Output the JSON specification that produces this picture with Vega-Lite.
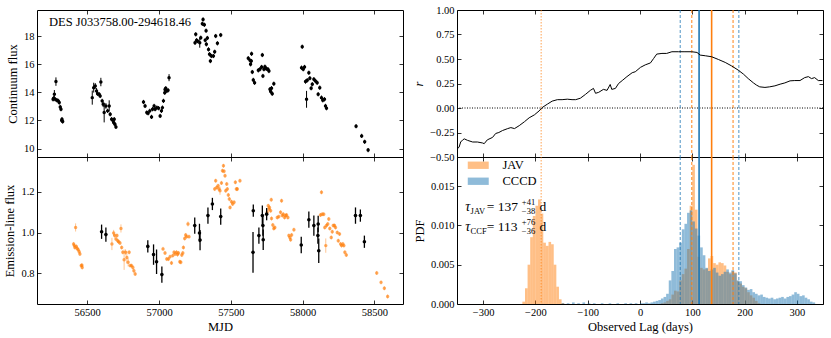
{
"$schema":"https://vega.github.io/schema/vega-lite/v6.json",
"background":"white",
"padding":{"left":3,"top":4,"right":0,"bottom":0},
"spacing":8,
"datasets":{
"cont":[
{"t":56262,"f":13.5,"e":0.15},{"t":56266,"f":13.58,"e":0.15},{"t":56271,"f":13.86,"e":0.3},{"t":56277,"f":13.5,"e":0.15},{"t":56282,"f":14.76,"e":0.3},{"t":56289,"f":13.43,"e":0.15},{"t":56298,"f":13.39,"e":0.15},{"t":56305,"f":13.27,"e":0.15},{"t":56312,"f":12.96,"e":0.15},{"t":56317,"f":12.8,"e":0.15},{"t":56322,"f":12.0,"e":0.15},{"t":56324,"f":12.09,"e":0.15},{"t":56329,"f":11.92,"e":0.15},
{"t":56535,"f":13.62,"e":0.5},{"t":56545,"f":14.33,"e":0.35},{"t":56556,"f":14.45,"e":0.2},{"t":56565,"f":14.1,"e":0.2},{"t":56572,"f":13.9,"e":0.15},{"t":56583,"f":13.86,"e":0.15},{"t":56590,"f":13.74,"e":0.15},{"t":56595,"f":14.73,"e":0.3},{"t":56604,"f":13.39,"e":0.15},{"t":56611,"f":13.15,"e":0.2},{"t":56618,"f":12.56,"e":0.7},{"t":56630,"f":13.03,"e":0.2},{"t":56642,"f":12.68,"e":0.15},{"t":56653,"f":13.03,"e":0.4},{"t":56660,"f":12.44,"e":0.15},{"t":56670,"f":12.09,"e":0.15},{"t":56679,"f":12.01,"e":0.15},{"t":56684,"f":11.85,"e":0.15},{"t":56688,"f":12.09,"e":0.15},{"t":56693,"f":11.73,"e":0.15},{"t":56700,"f":11.54,"e":0.15},
{"t":56892,"f":13.31,"e":0.15},{"t":56903,"f":13.03,"e":0.15},{"t":56915,"f":12.56,"e":0.15},{"t":56924,"f":12.51,"e":0.15},{"t":56936,"f":12.68,"e":0.15},{"t":56948,"f":12.25,"e":0.15},{"t":56955,"f":12.8,"e":0.15},{"t":56966,"f":13.03,"e":0.15},{"t":56973,"f":12.8,"e":0.15},{"t":56985,"f":12.91,"e":0.15},{"t":56997,"f":12.87,"e":0.15},{"t":57008,"f":12.32,"e":0.15},{"t":57017,"f":12.68,"e":0.15},{"t":57024,"f":12.91,"e":0.15},{"t":57031,"f":13.39,"e":0.15},{"t":57040,"f":13.97,"e":0.15},{"t":57042,"f":14.2,"e":0.15},{"t":57047,"f":14.28,"e":0.15},{"t":57054,"f":14.1,"e":0.15},{"t":57063,"f":14.14,"e":0.15},{"t":57070,"f":15.04,"e":0.25},
{"t":57251,"f":17.52,"e":0.15},{"t":57256,"f":18.12,"e":0.15},{"t":57262,"f":17.7,"e":0.15},{"t":57268,"f":17.64,"e":0.15},{"t":57284,"f":17.52,"e":0.35},{"t":57291,"f":17.88,"e":0.15},{"t":57302,"f":18.87,"e":0.15},{"t":57307,"f":19.18,"e":0.15},{"t":57316,"f":18.8,"e":0.15},{"t":57322,"f":17.7,"e":0.15},{"t":57328,"f":18.38,"e":0.15},{"t":57330,"f":17.41,"e":0.15},{"t":57337,"f":17.86,"e":0.15},{"t":57345,"f":17.05,"e":0.15},{"t":57352,"f":16.7,"e":0.15},{"t":57358,"f":16.22,"e":0.15},{"t":57365,"f":16.58,"e":0.15},{"t":57379,"f":16.58,"e":0.15},{"t":57388,"f":16.88,"e":0.15},{"t":57395,"f":18.0,"e":0.15},{"t":57407,"f":17.48,"e":0.15},{"t":57430,"f":18.07,"e":0.15},
{"t":57622,"f":16.42,"e":0.15},{"t":57634,"f":16.27,"e":0.15},{"t":57638,"f":15.99,"e":0.15},{"t":57643,"f":16.22,"e":0.15},{"t":57645,"f":16.74,"e":0.15},{"t":57650,"f":15.44,"e":0.15},{"t":57657,"f":14.88,"e":0.15},{"t":57666,"f":14.68,"e":0.15},{"t":57692,"f":15.56,"e":0.15},{"t":57703,"f":15.64,"e":0.15},{"t":57715,"f":15.8,"e":0.15},{"t":57720,"f":16.65,"e":0.15},{"t":57724,"f":15.16,"e":0.15},{"t":57731,"f":15.64,"e":0.15},{"t":57738,"f":15.82,"e":0.15},{"t":57748,"f":15.68,"e":0.15},{"t":57759,"f":15.64,"e":0.15},{"t":57766,"f":15.51,"e":0.15},{"t":57773,"f":14.22,"e":0.15},{"t":57778,"f":14.05,"e":0.15},{"t":57784,"f":14.29,"e":0.15},{"t":57789,"f":13.9,"e":0.15},{"t":57800,"f":14.61,"e":0.15},
{"t":57993,"f":15.75,"e":0.15},{"t":57998,"f":17.24,"e":0.15},{"t":58005,"f":15.64,"e":0.15},{"t":58014,"f":15.8,"e":0.15},{"t":58021,"f":14.76,"e":0.15},{"t":58028,"f":13.5,"e":0.6},{"t":58033,"f":14.85,"e":0.15},{"t":58044,"f":15.39,"e":0.15},{"t":58051,"f":15.0,"e":0.15},{"t":58060,"f":14.29,"e":0.15},{"t":58068,"f":14.57,"e":0.15},{"t":58079,"f":14.93,"e":0.15},{"t":58090,"f":14.8,"e":0.15},{"t":58102,"f":14.68,"e":0.15},{"t":58109,"f":13.86,"e":0.15},{"t":58120,"f":14.33,"e":0.15},{"t":58132,"f":13.62,"e":0.15},{"t":58141,"f":13.43,"e":0.15},{"t":58153,"f":13.5,"e":0.15},{"t":58160,"f":13.03,"e":0.15},{"t":58167,"f":12.87,"e":0.15},
{"t":58373,"f":11.59,"e":0.15},{"t":58412,"f":10.9,"e":0.15},{"t":58433,"f":10.48,"e":0.15},{"t":58457,"f":9.89,"e":0.15}
],
"line":[
{"t":56405,"f":0.944,"e":0.01,"g":"o"},{"t":56410,"f":0.936,"e":0.01,"g":"o"},{"t":56414,"f":0.927,"e":0.01,"g":"o"},{"t":56419,"f":1.025,"e":0.02,"g":"o"},{"t":56424,"f":0.932,"e":0.01,"g":"o"},{"t":56430,"f":0.922,"e":0.01,"g":"o"},{"t":56437,"f":0.916,"e":0.01,"g":"o"},{"t":56444,"f":0.906,"e":0.01,"g":"o"},{"t":56449,"f":0.895,"e":0.01,"g":"o"},{"t":56458,"f":0.838,"e":0.01,"g":"o"},{"t":56463,"f":0.84,"e":0.01,"g":"o"},{"t":56465,"f":0.829,"e":0.01,"g":"o"},
{"t":56672,"f":0.944,"e":0.03,"g":"o"},{"t":56684,"f":0.998,"e":0.015,"g":"o"},{"t":56691,"f":0.985,"e":0.01,"g":"o"},{"t":56700,"f":0.968,"e":0.01,"g":"o"},{"t":56707,"f":0.985,"e":0.01,"g":"o"},{"t":56712,"f":0.96,"e":0.01,"g":"o"},{"t":56719,"f":0.955,"e":0.01,"g":"o"},{"t":56728,"f":0.949,"e":0.01,"g":"o"},{"t":56735,"f":1.02,"e":0.02,"g":"o"},{"t":56740,"f":0.927,"e":0.01,"g":"o"},{"t":56748,"f":0.903,"e":0.01,"g":"o"},{"t":56757,"f":0.867,"e":0.05,"g":"o"},{"t":56767,"f":0.903,"e":0.015,"g":"o"},{"t":56776,"f":0.878,"e":0.03,"g":"o"},{"t":56785,"f":0.854,"e":0.02,"g":"o"},{"t":56792,"f":0.903,"e":0.01,"g":"o"},{"t":56799,"f":0.838,"e":0.01,"g":"o"},{"t":56809,"f":0.838,"e":0.01,"g":"o"},{"t":56818,"f":0.829,"e":0.01,"g":"o"},{"t":56825,"f":0.813,"e":0.01,"g":"o"},{"t":56834,"f":0.797,"e":0.01,"g":"o"},
{"t":57028,"f":0.92,"e":0.01,"g":"o"},{"t":57042,"f":0.9,"e":0.01,"g":"o"},{"t":57054,"f":0.87,"e":0.01,"g":"o"},{"t":57066,"f":0.87,"e":0.01,"g":"o"},{"t":57077,"f":0.882,"e":0.01,"g":"o"},{"t":57087,"f":0.851,"e":0.01,"g":"o"},{"t":57096,"f":0.887,"e":0.01,"g":"o"},{"t":57105,"f":0.903,"e":0.01,"g":"o"},{"t":57112,"f":0.895,"e":0.01,"g":"o"},{"t":57122,"f":0.903,"e":0.01,"g":"o"},{"t":57129,"f":0.892,"e":0.01,"g":"o"},{"t":57136,"f":0.9,"e":0.01,"g":"o"},{"t":57145,"f":0.857,"e":0.01,"g":"o"},{"t":57152,"f":0.854,"e":0.01,"g":"o"},{"t":57159,"f":0.89,"e":0.01,"g":"o"},{"t":57166,"f":0.9,"e":0.01,"g":"o"},{"t":57170,"f":0.927,"e":0.01,"g":"o"},{"t":57179,"f":0.971,"e":0.01,"g":"o"},{"t":57186,"f":0.988,"e":0.01,"g":"o"},{"t":57193,"f":0.98,"e":0.01,"g":"o"},{"t":57202,"f":1.042,"e":0.012,"g":"o"},{"t":57209,"f":0.98,"e":0.01,"g":"o"},
{"t":57388,"f":1.213,"e":0.01,"g":"o"},{"t":57395,"f":1.254,"e":0.01,"g":"o"},{"t":57402,"f":1.221,"e":0.01,"g":"o"},{"t":57412,"f":1.229,"e":0.01,"g":"o"},{"t":57418,"f":1.213,"e":0.01,"g":"o"},{"t":57425,"f":1.205,"e":0.02,"g":"o"},{"t":57435,"f":1.243,"e":0.01,"g":"o"},{"t":57442,"f":1.303,"e":0.01,"g":"o"},{"t":57449,"f":1.327,"e":0.01,"g":"o"},{"t":57453,"f":1.3,"e":0.01,"g":"o"},{"t":57460,"f":1.278,"e":0.01,"g":"o"},{"t":57465,"f":1.205,"e":0.01,"g":"o"},{"t":57472,"f":1.238,"e":0.01,"g":"o"},{"t":57476,"f":1.213,"e":0.01,"g":"o"},{"t":57483,"f":1.184,"e":0.01,"g":"o"},{"t":57490,"f":1.164,"e":0.01,"g":"o"},{"t":57495,"f":1.123,"e":0.01,"g":"o"},{"t":57505,"f":1.151,"e":0.01,"g":"o"},{"t":57513,"f":1.14,"e":0.01,"g":"o"},{"t":57523,"f":1.148,"e":0.01,"g":"o"},{"t":57532,"f":1.246,"e":0.01,"g":"o"},{"t":57539,"f":1.213,"e":0.01,"g":"o"},{"t":57546,"f":1.213,"e":0.01,"g":"o"},{"t":57564,"f":1.254,"e":0.01,"g":"o"},
{"t":57754,"f":1.099,"e":0.01,"g":"o"},{"t":57761,"f":1.131,"e":0.01,"g":"o"},{"t":57766,"f":1.115,"e":0.01,"g":"o"},{"t":57770,"f":1.123,"e":0.01,"g":"o"},{"t":57778,"f":1.107,"e":0.01,"g":"o"},{"t":57782,"f":1.161,"e":0.01,"g":"o"},{"t":57784,"f":1.069,"e":0.01,"g":"o"},{"t":57793,"f":1.037,"e":0.01,"g":"o"},{"t":57800,"f":1.02,"e":0.01,"g":"o"},{"t":57807,"f":1.025,"e":0.01,"g":"o"},{"t":57824,"f":1.074,"e":0.01,"g":"o"},{"t":57835,"f":1.078,"e":0.01,"g":"o"},{"t":57847,"f":1.099,"e":0.01,"g":"o"},{"t":57854,"f":1.156,"e":0.01,"g":"o"},{"t":57859,"f":1.083,"e":0.01,"g":"o"},{"t":57866,"f":1.09,"e":0.01,"g":"o"},{"t":57875,"f":1.074,"e":0.01,"g":"o"},{"t":57882,"f":1.083,"e":0.01,"g":"o"},{"t":57889,"f":1.086,"e":0.01,"g":"o"},{"t":57898,"f":1.074,"e":0.01,"g":"o"},{"t":57905,"f":0.985,"e":0.01,"g":"o"},{"t":57912,"f":0.976,"e":0.01,"g":"o"},{"t":57917,"f":0.965,"e":0.01,"g":"o"},{"t":57924,"f":0.988,"e":0.01,"g":"o"},{"t":57940,"f":1.014,"e":0.01,"g":"o"},
{"t":58125,"f":1.086,"e":0.01,"g":"o"},{"t":58132,"f":1.197,"e":0.01,"g":"o"},{"t":58137,"f":1.09,"e":0.01,"g":"o"},{"t":58148,"f":1.09,"e":0.01,"g":"o"},{"t":58155,"f":1.025,"e":0.01,"g":"o"},{"t":58162,"f":0.936,"e":0.035,"g":"o"},{"t":58167,"f":1.034,"e":0.01,"g":"o"},{"t":58176,"f":1.042,"e":0.01,"g":"o"},{"t":58183,"f":1.066,"e":0.01,"g":"o"},{"t":58190,"f":1.02,"e":0.01,"g":"o"},{"t":58200,"f":0.976,"e":0.01,"g":"o"},{"t":58207,"f":1.004,"e":0.01,"g":"o"},{"t":58214,"f":1.034,"e":0.01,"g":"o"},{"t":58223,"f":1.034,"e":0.01,"g":"o"},{"t":58230,"f":1.025,"e":0.01,"g":"o"},{"t":58242,"f":1.0,"e":0.01,"g":"o"},{"t":58249,"f":0.96,"e":0.01,"g":"o"},{"t":58258,"f":0.993,"e":0.01,"g":"o"},{"t":58265,"f":0.944,"e":0.01,"g":"o"},{"t":58272,"f":0.936,"e":0.01,"g":"o"},{"t":58281,"f":0.944,"e":0.01,"g":"o"},{"t":58288,"f":0.936,"e":0.01,"g":"o"},{"t":58295,"f":0.903,"e":0.01,"g":"o"},{"t":58305,"f":0.89,"e":0.01,"g":"o"},
{"t":58517,"f":0.802,"e":0.01,"g":"o"},{"t":58547,"f":0.756,"e":0.01,"g":"o"},{"t":58570,"f":0.727,"e":0.01,"g":"o"},{"t":58593,"f":0.687,"e":0.01,"g":"o"},
{"t":56600,"f":1.004,"e":0.035,"g":"k"},{"t":56630,"f":0.99,"e":0.035,"g":"k"},{"t":56922,"f":0.932,"e":0.03,"g":"k"},{"t":56962,"f":0.892,"e":0.05,"g":"k"},{"t":56983,"f":0.857,"e":0.06,"g":"k"},{"t":57020,"f":0.794,"e":0.04,"g":"k"},{"t":57249,"f":1.034,"e":0.04,"g":"k"},{"t":57282,"f":0.998,"e":0.045,"g":"k"},{"t":57286,"f":0.963,"e":0.05,"g":"k"},{"t":57341,"f":1.083,"e":0.04,"g":"k"},{"t":57372,"f":1.14,"e":0.03,"g":"k"},{"t":57430,"f":1.078,"e":0.04,"g":"k"},{"t":57657,"f":1.107,"e":0.03,"g":"k"},{"t":57655,"f":0.903,"e":0.1,"g":"k"},{"t":57696,"f":0.985,"e":0.04,"g":"k"},{"t":57720,"f":1.083,"e":0.05,"g":"k"},{"t":57724,"f":1.034,"e":0.05,"g":"k"},{"t":57726,"f":0.965,"e":0.05,"g":"k"},{"t":57750,"f":1.09,"e":0.03,"g":"k"},{"t":57991,"f":0.939,"e":0.04,"g":"k"},{"t":58044,"f":1.063,"e":0.04,"g":"k"},{"t":58079,"f":1.034,"e":0.05,"g":"k"},{"t":58109,"f":1.042,"e":0.04,"g":"k"},{"t":58107,"f":0.985,"e":0.04,"g":"k"},{"t":58113,"f":0.911,"e":0.06,"g":"k"},{"t":58369,"f":1.083,"e":0.04,"g":"k"},{"t":58403,"f":1.083,"e":0.03,"g":"k"},{"t":58431,"f":0.955,"e":0.03,"g":"k"}
],
"ccf":[
{"x":-349,"r":-0.414},{"x":-346,"r":-0.4},{"x":-343,"r":-0.347},{"x":-339,"r":-0.325},{"x":-336,"r":-0.315},{"x":-330,"r":-0.33},{"x":-320,"r":-0.347},{"x":-311,"r":-0.347},{"x":-301,"r":-0.357},{"x":-298,"r":-0.364},{"x":-292,"r":-0.325},{"x":-282,"r":-0.3},{"x":-276,"r":-0.26},{"x":-270,"r":-0.25},{"x":-263,"r":-0.23},{"x":-253,"r":-0.21},{"x":-247,"r":-0.2},{"x":-240,"r":-0.21},{"x":-231,"r":-0.18},{"x":-221,"r":-0.14},{"x":-212,"r":-0.1},{"x":-202,"r":-0.07},{"x":-193,"r":-0.03},{"x":-187,"r":0.005},{"x":-177,"r":0.04},{"x":-168,"r":0.07},{"x":-158,"r":0.085},{"x":-149,"r":0.085},{"x":-139,"r":0.09},{"x":-130,"r":0.085},{"x":-123,"r":0.085},{"x":-114,"r":0.1},{"x":-104,"r":0.14},{"x":-95,"r":0.18},{"x":-89,"r":0.2},{"x":-85,"r":0.15},{"x":-79,"r":0.16},{"x":-70,"r":0.19},{"x":-63,"r":0.18},{"x":-57,"r":0.24},{"x":-54,"r":0.19},{"x":-47,"r":0.2},{"x":-41,"r":0.25},{"x":-34,"r":0.28},{"x":-25,"r":0.32},{"x":-15,"r":0.36},{"x":-9,"r":0.37},{"x":1,"r":0.415},{"x":10,"r":0.44},{"x":20,"r":0.46},{"x":26,"r":0.505},{"x":32,"r":0.55},{"x":42,"r":0.557},{"x":51,"r":0.557},{"x":61,"r":0.574},{"x":74,"r":0.574},{"x":86,"r":0.574},{"x":99,"r":0.574},{"x":109,"r":0.567},{"x":115,"r":0.54},{"x":125,"r":0.533},{"x":137,"r":0.523},{"x":150,"r":0.495},{"x":163,"r":0.465},{"x":175,"r":0.43},{"x":188,"r":0.386},{"x":198,"r":0.345},{"x":207,"r":0.3},{"x":217,"r":0.256},{"x":223,"r":0.233},{"x":229,"r":0.216},{"x":239,"r":0.21},{"x":248,"r":0.216},{"x":258,"r":0.226},{"x":268,"r":0.243},{"x":277,"r":0.256},{"x":287,"r":0.277},{"x":296,"r":0.28},{"x":306,"r":0.28},{"x":315,"r":0.31},{"x":322,"r":0.32},{"x":328,"r":0.3},{"x":334,"r":0.31},{"x":341,"r":0.28},{"x":349,"r":0.28}
],
"hist":[
{"m":"JAV","a":-225,"b":-220,"p":0.0003},{"m":"JAV","a":-220,"b":-215,"p":0.002},{"m":"JAV","a":-215,"b":-210,"p":0.005},{"m":"JAV","a":-210,"b":-205,"p":0.0085},{"m":"JAV","a":-205,"b":-200,"p":0.0112},{"m":"JAV","a":-200,"b":-195,"p":0.0125},{"m":"JAV","a":-195,"b":-190,"p":0.0133},{"m":"JAV","a":-190,"b":-185,"p":0.0115},{"m":"JAV","a":-185,"b":-180,"p":0.0078},{"m":"JAV","a":-180,"b":-175,"p":0.0074},{"m":"JAV","a":-175,"b":-170,"p":0.0079},{"m":"JAV","a":-170,"b":-165,"p":0.0076},{"m":"JAV","a":-165,"b":-160,"p":0.005},{"m":"JAV","a":-160,"b":-155,"p":0.0022},{"m":"JAV","a":-155,"b":-150,"p":0.0006},{"m":"JAV","a":-150,"b":-145,"p":0.0001},
{"m":"JAV","a":40,"b":45,"p":0.0001},{"m":"JAV","a":45,"b":50,"p":0.0002},{"m":"JAV","a":50,"b":55,"p":0.0004},{"m":"JAV","a":55,"b":60,"p":0.0006},{"m":"JAV","a":60,"b":65,"p":0.0012},{"m":"JAV","a":65,"b":70,"p":0.0017},{"m":"JAV","a":70,"b":75,"p":0.0016},{"m":"JAV","a":75,"b":80,"p":0.003},{"m":"JAV","a":80,"b":85,"p":0.0038},{"m":"JAV","a":85,"b":90,"p":0.0045},{"m":"JAV","a":90,"b":95,"p":0.007},{"m":"JAV","a":95,"b":100,"p":0.0125},{"m":"JAV","a":100,"b":105,"p":0.0177},{"m":"JAV","a":105,"b":110,"p":0.012},{"m":"JAV","a":110,"b":115,"p":0.006},{"m":"JAV","a":115,"b":120,"p":0.0046},{"m":"JAV","a":120,"b":125,"p":0.0044},{"m":"JAV","a":125,"b":130,"p":0.0045},{"m":"JAV","a":130,"b":135,"p":0.0058},{"m":"JAV","a":135,"b":140,"p":0.0061},{"m":"JAV","a":140,"b":145,"p":0.0052},{"m":"JAV","a":145,"b":150,"p":0.005},{"m":"JAV","a":150,"b":155,"p":0.0053},{"m":"JAV","a":155,"b":160,"p":0.0052},{"m":"JAV","a":160,"b":165,"p":0.0049},{"m":"JAV","a":165,"b":170,"p":0.0041},{"m":"JAV","a":170,"b":175,"p":0.0038},{"m":"JAV","a":175,"b":180,"p":0.0042},{"m":"JAV","a":180,"b":185,"p":0.004},{"m":"JAV","a":185,"b":190,"p":0.0029},{"m":"JAV","a":190,"b":195,"p":0.0026},{"m":"JAV","a":195,"b":200,"p":0.0022},{"m":"JAV","a":200,"b":205,"p":0.002},{"m":"JAV","a":205,"b":210,"p":0.0015},{"m":"JAV","a":210,"b":215,"p":0.0011},{"m":"JAV","a":215,"b":220,"p":0.0008},{"m":"JAV","a":220,"b":225,"p":0.0004},{"m":"JAV","a":225,"b":230,"p":0.0001},
{"m":"CCCD","a":-150,"b":-145,"p":0.0001},{"m":"CCCD","a":-140,"b":-135,"p":0.0001},{"m":"CCCD","a":-130,"b":-125,"p":0.0002},{"m":"CCCD","a":-120,"b":-115,"p":0.0001},{"m":"CCCD","a":-110,"b":-105,"p":0.0002},{"m":"CCCD","a":-100,"b":-95,"p":0.0001},{"m":"CCCD","a":-90,"b":-85,"p":0.0001},{"m":"CCCD","a":-75,"b":-70,"p":0.0001},{"m":"CCCD","a":-60,"b":-55,"p":0.0001},{"m":"CCCD","a":-45,"b":-40,"p":0.0001},{"m":"CCCD","a":-30,"b":-25,"p":0.0001},{"m":"CCCD","a":-20,"b":-15,"p":0.0001},{"m":"CCCD","a":-10,"b":-5,"p":0.0001},{"m":"CCCD","a":0,"b":5,"p":0.0001},{"m":"CCCD","a":5,"b":10,"p":0.0001},{"m":"CCCD","a":10,"b":15,"p":0.0002},{"m":"CCCD","a":15,"b":20,"p":0.0001},{"m":"CCCD","a":20,"b":25,"p":0.0002},{"m":"CCCD","a":25,"b":30,"p":0.0003},{"m":"CCCD","a":30,"b":35,"p":0.0004},{"m":"CCCD","a":35,"b":40,"p":0.0005},{"m":"CCCD","a":40,"b":45,"p":0.0007},{"m":"CCCD","a":45,"b":50,"p":0.0009},{"m":"CCCD","a":50,"b":55,"p":0.0013},{"m":"CCCD","a":55,"b":60,"p":0.003},{"m":"CCCD","a":60,"b":65,"p":0.0042},{"m":"CCCD","a":65,"b":70,"p":0.007},{"m":"CCCD","a":70,"b":75,"p":0.0072},{"m":"CCCD","a":75,"b":80,"p":0.0078},{"m":"CCCD","a":80,"b":85,"p":0.0095},{"m":"CCCD","a":85,"b":90,"p":0.0102},{"m":"CCCD","a":90,"b":95,"p":0.0116},{"m":"CCCD","a":95,"b":100,"p":0.0119},{"m":"CCCD","a":100,"b":105,"p":0.0105},{"m":"CCCD","a":105,"b":110,"p":0.0096},{"m":"CCCD","a":110,"b":115,"p":0.0087},{"m":"CCCD","a":115,"b":120,"p":0.0072},{"m":"CCCD","a":120,"b":125,"p":0.0062},{"m":"CCCD","a":125,"b":130,"p":0.0046},{"m":"CCCD","a":130,"b":135,"p":0.0042},{"m":"CCCD","a":135,"b":140,"p":0.0044},{"m":"CCCD","a":140,"b":145,"p":0.0046},{"m":"CCCD","a":145,"b":150,"p":0.004},{"m":"CCCD","a":150,"b":155,"p":0.0036},{"m":"CCCD","a":155,"b":160,"p":0.0038},{"m":"CCCD","a":160,"b":165,"p":0.0041},{"m":"CCCD","a":165,"b":170,"p":0.0044},{"m":"CCCD","a":170,"b":175,"p":0.004},{"m":"CCCD","a":175,"b":180,"p":0.0043},{"m":"CCCD","a":180,"b":185,"p":0.0039},{"m":"CCCD","a":185,"b":190,"p":0.003},{"m":"CCCD","a":190,"b":195,"p":0.0029},{"m":"CCCD","a":195,"b":200,"p":0.0024},{"m":"CCCD","a":200,"b":205,"p":0.0021},{"m":"CCCD","a":205,"b":210,"p":0.0018},{"m":"CCCD","a":210,"b":215,"p":0.0019},{"m":"CCCD","a":215,"b":220,"p":0.0015},{"m":"CCCD","a":220,"b":225,"p":0.0013},{"m":"CCCD","a":225,"b":230,"p":0.0011},{"m":"CCCD","a":230,"b":235,"p":0.0012},{"m":"CCCD","a":235,"b":240,"p":0.0009},{"m":"CCCD","a":240,"b":245,"p":0.0008},{"m":"CCCD","a":245,"b":250,"p":0.0007},{"m":"CCCD","a":250,"b":255,"p":0.0008},{"m":"CCCD","a":255,"b":260,"p":0.0006},{"m":"CCCD","a":260,"b":265,"p":0.0007},{"m":"CCCD","a":265,"b":270,"p":0.0008},{"m":"CCCD","a":270,"b":275,"p":0.0009},{"m":"CCCD","a":275,"b":280,"p":0.0007},{"m":"CCCD","a":280,"b":285,"p":0.0009},{"m":"CCCD","a":285,"b":290,"p":0.001},{"m":"CCCD","a":290,"b":295,"p":0.0012},{"m":"CCCD","a":295,"b":300,"p":0.0015},{"m":"CCCD","a":300,"b":305,"p":0.0013},{"m":"CCCD","a":305,"b":310,"p":0.001},{"m":"CCCD","a":310,"b":315,"p":0.0011},{"m":"CCCD","a":315,"b":320,"p":0.0008},{"m":"CCCD","a":320,"b":325,"p":0.0006},{"m":"CCCD","a":325,"b":330,"p":0.0003},{"m":"CCCD","a":330,"b":335,"p":0.0002}
],
"lags":[
{"x":-189,"k":"alias"},{"x":77,"k":"cl"},{"x":189,"k":"cl"},{"x":99,"k":"jl"},{"x":178,"k":"jl"},{"x":113,"k":"cb"},{"x":137,"k":"jb"}
],
"ann":[
{"r":"tau","x":-334,"p":0.0124,"s":"τ"},{"r":"sub","x":-324,"p":0.0124,"s":"JAV"},{"r":"main","x":-293,"p":0.0124,"s":"= 137"},{"r":"sup","x":-226,"p":0.0124,"s":"+41"},{"r":"sub","x":-226,"p":0.0124,"s":"−38"},{"r":"main","x":-192,"p":0.0124,"s":"d"},
{"r":"tau","x":-334,"p":0.0098,"s":"τ"},{"r":"sub","x":-324,"p":0.0098,"s":"CCF"},{"r":"main","x":-293,"p":0.0098,"s":"= 113"},{"r":"sup","x":-226,"p":0.0098,"s":"+76"},{"r":"sub","x":-226,"p":0.0098,"s":"−36"},{"r":"main","x":-192,"p":0.0098,"s":"d"}
]
},
"hconcat":[
{"spacing":0,"bounds":"flush","vconcat":[
 {"width":366,"height":147,
  "resolve":{"axis":{"x":"independent","y":"independent"}},
  "layer":[
   {"data":{"name":"cont"},"mark":{"type":"errorbar","color":"black","thickness":1},
    "encoding":{
     "x":{"field":"t","type":"quantitative","scale":{"domain":[56150,58700],"nice":false,"zero":false},"axis":{"orient":"top","labels":false,"title":null,"minExtent":5,"values":[56500,57000,57500,58000,58500]}},
     "y":{"field":"f","type":"quantitative","scale":{"domain":[9.4,19.85],"nice":false,"zero":false},"axis":{"orient":"right","labels":false,"title":null,"values":[10,12,14,16,18]}},
     "yError":{"field":"e"}}},
   {"data":{"name":"cont"},"mark":{"type":"circle","size":12,"color":"black","opacity":1},
    "encoding":{
     "x":{"field":"t","type":"quantitative","scale":{"domain":[56150,58700],"nice":false,"zero":false},"axis":{"labels":false,"title":null,"values":[56500,57000,57500,58000,58500]}},
     "y":{"field":"f","type":"quantitative","scale":{"domain":[9.4,19.85],"nice":false,"zero":false},"axis":{"title":"Continuum flux","values":[10,12,14,16,18]}}}},
   {"data":{"values":[{"t":56234,"f":18.99,"s":"DES J033758.00-294618.46"}]},
    "mark":{"type":"text","align":"left","baseline":"middle","fontSize":12.5,"color":"black"},
    "encoding":{
     "x":{"field":"t","type":"quantitative","scale":{"domain":[56150,58700],"nice":false,"zero":false},"axis":null},
     "y":{"field":"f","type":"quantitative","scale":{"domain":[9.4,19.85],"nice":false,"zero":false},"axis":null},
     "text":{"field":"s"}}}
  ]},
 {"width":366,"height":147,
  "resolve":{"axis":{"x":"independent","y":"independent"}},
  "layer":[
   {"data":{"name":"line"},"transform":[{"filter":"datum.g=='o'"}],"mark":{"type":"errorbar","color":"#ff7f0e","opacity":0.45,"thickness":1},
    "encoding":{
     "x":{"field":"t","type":"quantitative","scale":{"domain":[56150,58700],"nice":false,"zero":false},"axis":{"orient":"top","labels":false,"title":null,"values":[56500,57000,57500,58000,58500]}},
     "y":{"field":"f","type":"quantitative","scale":{"domain":[0.65,1.37],"nice":false,"zero":false},"axis":{"orient":"right","labels":false,"title":null,"values":[0.8,1.0,1.2]}},
     "yError":{"field":"e"}}},
   {"data":{"name":"line"},"transform":[{"filter":"datum.g=='o'"}],"mark":{"type":"circle","size":12,"color":"#ff7f0e","opacity":0.65},
    "encoding":{
     "x":{"field":"t","type":"quantitative","scale":{"domain":[56150,58700],"nice":false,"zero":false},"axis":{"title":"MJD","values":[56500,57000,57500,58000,58500],"format":"d"}},
     "y":{"field":"f","type":"quantitative","scale":{"domain":[0.65,1.37],"nice":false,"zero":false},"axis":{"title":"Emission-line flux","values":[0.8,1.0,1.2],"format":".1f"}}}},
   {"data":{"name":"line"},"transform":[{"filter":"datum.g=='k'"}],"mark":{"type":"errorbar","color":"black","thickness":1.3},
    "encoding":{
     "x":{"field":"t","type":"quantitative","scale":{"domain":[56150,58700],"nice":false,"zero":false},"axis":null},
     "y":{"field":"f","type":"quantitative","scale":{"domain":[0.65,1.37],"nice":false,"zero":false},"axis":null},
     "yError":{"field":"e"}}},
   {"data":{"name":"line"},"transform":[{"filter":"datum.g=='k'"}],"mark":{"type":"circle","size":13,"color":"black","opacity":1},
    "encoding":{
     "x":{"field":"t","type":"quantitative","scale":{"domain":[56150,58700],"nice":false,"zero":false},"axis":null},
     "y":{"field":"f","type":"quantitative","scale":{"domain":[0.65,1.37],"nice":false,"zero":false},"axis":null}}}
  ]}
]},
{"spacing":0,"bounds":"flush",
 "resolve":{"scale":{"color":"independent"},"legend":{"color":"independent"}},
 "vconcat":[
 {"width":366,"height":147,
  "resolve":{"axis":{"x":"independent","y":"independent"}},
  "layer":[
   {"data":{"values":[{"r":0}]},"mark":{"type":"rule","color":"black","strokeDash":[1,1.5],"strokeWidth":1},
    "encoding":{"y":{"field":"r","type":"quantitative","scale":{"domain":[-0.5,1],"nice":false,"zero":false},"axis":{"orient":"right","labels":false,"title":null,"values":[-0.5,-0.25,0,0.25,0.5,0.75,1]}}}},
   {"data":{"name":"lags"},"transform":[{"filter":"datum.k=='alias'"}],"mark":{"type":"rule","color":"#ff7f0e","opacity":0.6,"strokeDash":[1.5,1.5],"strokeWidth":1.2},
    "encoding":{"x":{"field":"x","type":"quantitative","scale":{"domain":[-350,350],"nice":false,"zero":false},"axis":{"orient":"top","labels":false,"title":null,"values":[-300,-200,-100,0,100,200,300]}}}},
   {"data":{"name":"lags"},"transform":[{"filter":"datum.k=='cl'"}],"mark":{"type":"rule","color":"#1f77b4","opacity":0.65,"strokeDash":[3,2],"strokeWidth":1.2},
    "encoding":{"x":{"field":"x","type":"quantitative","scale":{"domain":[-350,350],"nice":false,"zero":false},"axis":null}}},
   {"data":{"name":"lags"},"transform":[{"filter":"datum.k=='jl'"}],"mark":{"type":"rule","color":"#ff7f0e","opacity":0.8,"strokeDash":[3,2],"strokeWidth":1.2},
    "encoding":{"x":{"field":"x","type":"quantitative","scale":{"domain":[-350,350],"nice":false,"zero":false},"axis":null}}},
   {"data":{"name":"lags"},"transform":[{"filter":"datum.k=='cb'"}],"mark":{"type":"rule","color":"#1f77b4","strokeWidth":1.6},
    "encoding":{"x":{"field":"x","type":"quantitative","scale":{"domain":[-350,350],"nice":false,"zero":false},"axis":null}}},
   {"data":{"name":"lags"},"transform":[{"filter":"datum.k=='jb'"}],"mark":{"type":"rule","color":"#ff7f0e","strokeWidth":1.6},
    "encoding":{"x":{"field":"x","type":"quantitative","scale":{"domain":[-350,350],"nice":false,"zero":false},"axis":null}}},
   {"data":{"name":"ccf"},"mark":{"type":"line","color":"black","strokeWidth":1},
    "encoding":{
     "x":{"field":"x","type":"quantitative","scale":{"domain":[-350,350],"nice":false,"zero":false},"axis":{"labels":false,"title":null,"values":[-300,-200,-100,0,100,200,300]}},
     "y":{"field":"r","type":"quantitative","scale":{"domain":[-0.5,1],"nice":false,"zero":false},"axis":{"title":"r","titleFontStyle":"italic","values":[-0.5,-0.25,0,0.25,0.5,0.75,1],"format":".2f"}}}}
  ]},
 {"width":366,"height":147,
  "resolve":{"axis":{"x":"independent","y":"independent"}},
  "layer":[
   {"data":{"name":"hist"},"mark":{"type":"rect","opacity":0.5,"clip":true},
    "encoding":{
     "x":{"field":"a","type":"quantitative","scale":{"domain":[-350,350],"nice":false,"zero":false},"axis":{"title":"Observed Lag (days)","values":[-300,-200,-100,0,100,200,300]}},
     "x2":{"field":"b"},
     "y":{"field":"p","type":"quantitative","stack":null,"scale":{"domain":[0,0.0187],"nice":false,"zero":false},"axis":{"title":"PDF","values":[0,0.005,0.01,0.015],"format":".3f"}},
     "y2":{"datum":0},
     "color":{"field":"m","type":"nominal","scale":{"domain":["JAV","CCCD"],"range":["#ff7f0e","#1f77b4"]},
      "legend":{"title":null,"orient":"none","legendX":15,"legendY":2,"symbolType":"M-2,-0.7H2V0.7H-2Z","symbolSize":110,"symbolOpacity":0.5,"symbolStrokeWidth":0,"labelFontSize":12.5,"labelOffset":18,"rowPadding":3,"padding":0,"labelColor":"black"}}}},
   {"data":{"name":"lags"},"transform":[{"filter":"datum.k=='alias'"}],"mark":{"type":"rule","color":"#ff7f0e","opacity":0.6,"strokeDash":[1.5,1.5],"strokeWidth":1.2},
    "encoding":{"x":{"field":"x","type":"quantitative","scale":{"domain":[-350,350],"nice":false,"zero":false},"axis":{"orient":"top","labels":false,"title":null,"values":[-300,-200,-100,0,100,200,300]}}}},
   {"data":{"name":"lags"},"transform":[{"filter":"datum.k=='cl'"}],"mark":{"type":"rule","color":"#1f77b4","opacity":0.65,"strokeDash":[3,2],"strokeWidth":1.2},
    "encoding":{"x":{"field":"x","type":"quantitative","scale":{"domain":[-350,350],"nice":false,"zero":false},"axis":null}}},
   {"data":{"name":"lags"},"transform":[{"filter":"datum.k=='jl'"}],"mark":{"type":"rule","color":"#ff7f0e","opacity":0.8,"strokeDash":[3,2],"strokeWidth":1.2},
    "encoding":{"x":{"field":"x","type":"quantitative","scale":{"domain":[-350,350],"nice":false,"zero":false},"axis":null}}},
   {"data":{"name":"lags"},"transform":[{"filter":"datum.k=='cb'"}],"mark":{"type":"rule","color":"#1f77b4","strokeWidth":1.6},
    "encoding":{"x":{"field":"x","type":"quantitative","scale":{"domain":[-350,350],"nice":false,"zero":false},"axis":null}}},
   {"data":{"name":"lags"},"transform":[{"filter":"datum.k=='jb'"}],"mark":{"type":"rule","color":"#ff7f0e","strokeWidth":1.6},
    "encoding":{"x":{"field":"x","type":"quantitative","scale":{"domain":[-350,350],"nice":false,"zero":false},"axis":null}}},
   {"data":{"name":"ann"},"transform":[{"filter":"datum.r=='tau'"}],"mark":{"type":"text","align":"left","baseline":"middle","fontSize":14,"fontStyle":"italic","color":"black"},
    "encoding":{
     "x":{"field":"x","type":"quantitative","scale":{"domain":[-350,350],"nice":false,"zero":false},"axis":null},
     "y":{"field":"p","type":"quantitative","scale":{"domain":[0,0.0187],"nice":false,"zero":false},"axis":{"orient":"right","labels":false,"title":null,"values":[0,0.005,0.01,0.015]}},
     "text":{"field":"s"}}},
   {"data":{"name":"ann"},"transform":[{"filter":"datum.r=='main'"}],"mark":{"type":"text","align":"left","baseline":"middle","fontSize":13.5,"color":"black"},
    "encoding":{
     "x":{"field":"x","type":"quantitative","scale":{"domain":[-350,350],"nice":false,"zero":false},"axis":null},
     "y":{"field":"p","type":"quantitative","scale":{"domain":[0,0.0187],"nice":false,"zero":false},"axis":null},
     "text":{"field":"s"}}},
   {"data":{"name":"ann"},"transform":[{"filter":"datum.r=='sub'"}],"mark":{"type":"text","align":"left","baseline":"middle","fontSize":8.5,"dy":4,"color":"black"},
    "encoding":{
     "x":{"field":"x","type":"quantitative","scale":{"domain":[-350,350],"nice":false,"zero":false},"axis":null},
     "y":{"field":"p","type":"quantitative","scale":{"domain":[0,0.0187],"nice":false,"zero":false},"axis":null},
     "text":{"field":"s"}}},
   {"data":{"name":"ann"},"transform":[{"filter":"datum.r=='sup'"}],"mark":{"type":"text","align":"left","baseline":"middle","fontSize":8.5,"dy":-5,"color":"black"},
    "encoding":{
     "x":{"field":"x","type":"quantitative","scale":{"domain":[-350,350],"nice":false,"zero":false},"axis":null},
     "y":{"field":"p","type":"quantitative","scale":{"domain":[0,0.0187],"nice":false,"zero":false},"axis":null},
     "text":{"field":"s"}}}
  ]}
]}
],
"resolve":{"scale":{"color":"independent"},"legend":{"color":"independent"}},
"config":{
 "font":"Liberation Serif",
 "view":{"stroke":"black","strokeWidth":1},
 "axis":{"domain":false,"grid":false,"tickSize":-4,"tickColor":"black","tickWidth":0.8,"labelPadding":7,"labelFontSize":10.5,"labelColor":"black","labelFont":"Liberation Serif","titleFont":"Liberation Serif","titleFontSize":12.5,"titleFontWeight":"normal","titleColor":"black","minExtent":0,"labelFlush":false},
 "axisX":{"titlePadding":3},
 "axisY":{"titlePadding":4},
 "legend":{"labelFont":"Liberation Serif"}
}
}
